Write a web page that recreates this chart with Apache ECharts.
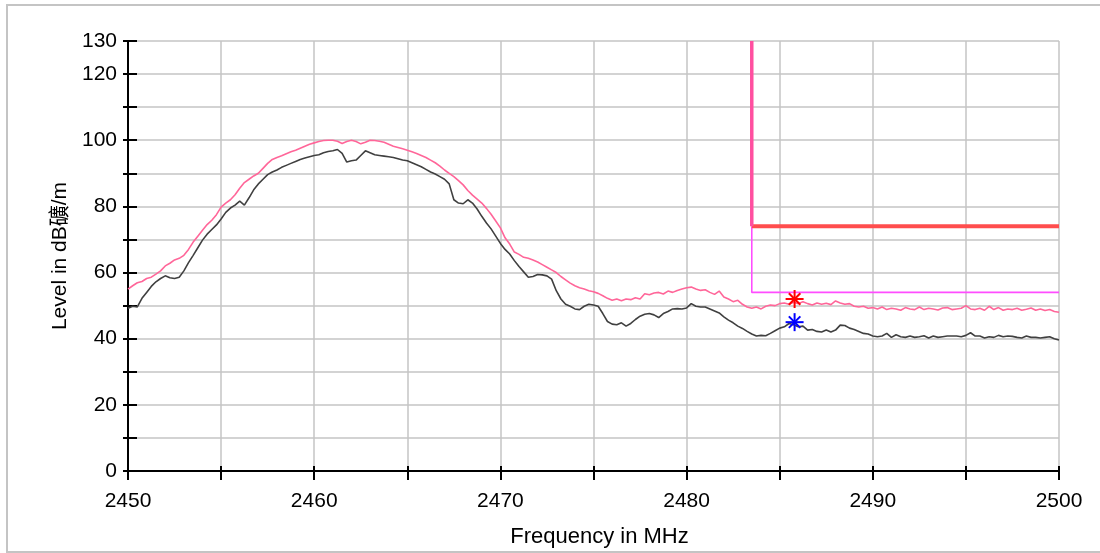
<!DOCTYPE html>
<html>
<head>
<meta charset="utf-8">
<script src="https://cdn.jsdelivr.net/npm/echarts@6/dist/echarts.min.js"></script>
<style>
  html, body {margin: 0; padding: 0; background: #fff;}
  #chart {width: 1100px; height: 553px;}
</style>
</head>
<body>
<div id="chart"></div>
<script>
// sweep: 2450 .. 2500 MHz, one reading every 0.25 MHz
var freqStart = 2450;
var freqStep = 0.25;

// upper trace (pink)
var pinkLevel = [
    55.0, 56.0, 56.9, 57.3, 58.2, 58.6, 59.5, 60.5, 62.0, 62.8, 63.8, 64.3, 65.2, 67.0, 69.2, 71.0, 72.8, 74.5, 75.8, 77.5,
    79.8, 81.0, 82.0, 83.5, 85.5, 87.2, 88.2, 89.2, 90.0, 91.5, 93.0, 94.2, 94.8, 95.3, 95.9, 96.5, 97.0, 97.6, 98.2, 98.8,
    99.2, 99.6, 99.9, 100.0, 100.0, 99.7, 99.0, 99.6, 100.0, 99.6, 98.9, 99.4, 100.0, 99.9, 99.7, 99.4, 98.8, 98.2, 97.8, 97.4,
    97.0, 96.5, 96.0, 95.4, 94.8, 94.0, 93.2, 92.2, 91.0, 90.0, 89.0, 87.8, 86.5, 84.8, 83.4, 82.2, 81.0, 79.4, 77.6, 75.6,
    73.5, 70.5, 68.6, 66.2, 65.5, 64.6, 64.3, 63.8, 63.2, 62.4, 61.6, 60.8, 60.0, 58.8, 57.8, 56.8, 56.0, 55.4, 55.0, 54.5,
    54.2, 53.7, 53.0, 52.2, 51.6, 52.0, 51.5, 52.0, 51.8, 52.4, 52.0, 53.6, 53.3, 53.8, 54.0, 53.5, 54.4, 54.0, 54.6, 55.0,
    55.4, 55.6, 55.0, 54.6, 54.8, 54.0, 53.4, 54.4, 52.6, 52.0, 51.2, 51.6, 50.4, 49.6, 49.2, 49.6, 49.0, 49.8, 50.2, 50.0,
    50.6, 50.8, 50.4, 51.0, 50.6, 51.2, 50.6, 50.2, 50.8, 50.4, 50.7, 50.3, 51.4, 50.8, 50.4, 50.6, 49.8, 49.6, 49.8, 49.2,
    49.4, 49.0, 49.6, 48.8, 49.2, 49.0, 48.6, 49.4, 49.0, 48.8, 49.6, 48.8, 49.2, 49.0, 48.7, 49.3, 49.4, 48.8, 49.0, 49.2,
    50.0, 49.0, 48.8, 49.2, 48.6, 49.8, 48.8, 49.4, 48.6, 49.0, 48.8, 49.2, 48.6, 48.9, 49.3, 48.6, 49.0, 48.5, 48.8, 48.2, 48.0
];

// lower trace (dark grey)
var darkLevel = [
    49.2, 49.8, 49.6, 52.2, 54.0, 55.8, 57.2, 58.2, 59.0, 58.4, 58.2, 58.6, 60.5, 63.0, 65.2, 67.5, 69.8, 71.6, 73.0, 74.4,
    76.2, 78.2, 79.5, 80.4, 81.6, 80.4, 82.6, 85.0, 86.8, 88.2, 89.6, 90.4, 91.0, 91.8, 92.4, 93.0, 93.6, 94.2, 94.6, 95.0,
    95.4, 95.6, 96.2, 96.6, 96.8, 97.2, 96.0, 93.4, 93.8, 94.0, 95.4, 96.8, 96.2, 95.6, 95.4, 95.2, 95.0, 94.8, 94.4, 94.0,
    93.8, 93.2, 92.6, 92.0, 91.2, 90.4, 89.8, 89.0, 88.2, 86.8, 82.0, 81.0, 80.8, 82.0, 81.0, 79.2, 77.0, 75.0, 73.2, 71.0,
    68.8, 67.0, 65.6, 63.6, 61.8, 60.2, 58.6, 58.8, 59.4, 59.3, 59.0, 58.0, 54.5, 52.0, 50.4, 49.8, 49.0, 48.8, 49.8, 50.4,
    50.2, 49.8, 47.6, 45.2, 44.4, 44.2, 44.8, 43.8, 44.6, 45.8, 46.8, 47.4, 47.6, 47.2, 46.4, 47.6, 48.2, 49.0, 49.1, 49.0,
    49.3, 50.6, 49.8, 49.6, 49.6, 49.0, 48.4, 47.8, 46.6, 45.6, 44.8, 43.8, 43.1, 42.2, 41.4, 40.8, 41.0, 40.9, 41.6, 42.4,
    43.2, 43.6, 44.6, 44.2, 43.6, 43.8, 42.6, 42.8, 42.2, 42.0, 42.6, 42.0, 42.6, 44.1, 44.0, 43.2, 42.8, 42.2, 41.6, 41.4,
    40.8, 40.6, 40.8, 41.6, 40.4, 41.2, 40.6, 40.4, 40.8, 40.4, 40.6, 40.9, 40.2, 40.8, 40.4, 40.6, 40.8, 40.8, 40.8, 40.6,
    41.0, 41.8, 40.8, 40.8, 40.2, 40.6, 40.4, 41.0, 40.6, 40.8, 40.7, 40.4, 40.2, 40.8, 40.4, 40.4, 40.2, 40.4, 40.6, 40.0, 39.6
];

// limit lines [freq, level]
var limitEdge = [[2483.5, 130], [2483.5, 74]];
var limitPeak = [[2483.5, 74], [2500, 74]];
var limitAvg = [[2483.5, 74], [2483.5, 54], [2500, 54]];

// markers [freq, level]
var markerPeak = [[2485.8, 52.0]];
var markerAvg = [[2485.8, 45.0]];

var yLabels = [0, 20, 40, 60, 80, 100, 120, 130];
var xLabels = [2450, 2460, 2470, 2480, 2490, 2500];

function toPairs(levels) {
    var out = [];
    for (var i = 0; i < levels.length; i++) {
        out.push([freqStart + i * freqStep, levels[i]]);
    }
    return out;
}

function starItem(color) {
    return function (params, api) {
        var p = api.coord([api.value(0), api.value(1)]);
        var r = 8;
        var d = r * 0.72;
        var style = {stroke: color, lineWidth: 2};
        return {
            type: 'group',
            children: [
                {type: 'line', shape: {x1: p[0], y1: p[1] - r - 1, x2: p[0], y2: p[1] + r + 1}, style: style},
                {type: 'line', shape: {x1: p[0] - r - 1, y1: p[1], x2: p[0] + r + 1, y2: p[1]}, style: style},
                {type: 'line', shape: {x1: p[0] - d, y1: p[1] - d, x2: p[0] + d, y2: p[1] + d}, style: style},
                {type: 'line', shape: {x1: p[0] - d, y1: p[1] + d, x2: p[0] + d, y2: p[1] - d}, style: style}
            ]
        };
    };
}

var fontFam = "'Liberation Sans', Arial, 'Noto Sans CJK SC', sans-serif";

var myChart = echarts.init(document.getElementById('chart'), null, {renderer: 'canvas'});
var option = {
    animation: false,
    backgroundColor: '#fff',
    textStyle: {fontFamily: fontFam},
    graphic: [
        {type: 'rect', shape: {x: 7, y: 5, width: 1110, height: 547}, style: {fill: 'none', stroke: '#c4c4c4', lineWidth: 2}, z: -10}
    ],
    grid: {left: 128, right: 41, top: 41, bottom: 82, containLabel: false},
    xAxis: [
        {
            type: 'value', min: 2450, max: 2500, interval: 5, position: 'bottom',
            name: 'Frequency in MHz', nameLocation: 'middle', nameGap: 55,
            nameTextStyle: {color: '#000', fontSize: 22, fontFamily: fontFam, padding: [0, 0, 0, 12]},
            axisLine: {show: true, onZero: false, lineStyle: {color: '#000', width: 2}},
            axisTick: {show: true, inside: false, length: 9, lineStyle: {color: '#000', width: 2}},
            axisLabel: {
                color: '#000', fontSize: 21, fontFamily: fontFam, margin: 20,
                formatter: function (v) { return xLabels.indexOf(v) >= 0 ? String(v) : ''; }
            },
            splitLine: {show: true, lineStyle: {color: '#c4c4c4', width: 1.5}}
        },
        {
            type: 'value', min: 2450, max: 2500, interval: 5, position: 'bottom',
            axisLine: {show: false},
            axisTick: {show: true, inside: true, length: 5, lineStyle: {color: '#000', width: 2}},
            axisLabel: {show: false},
            splitLine: {show: false}
        }
    ],
    yAxis: [
        {
            type: 'value', min: 0, max: 130, interval: 10, position: 'left',
            name: 'Level in dB礦/m', nameLocation: 'middle', nameGap: 57,
            nameTextStyle: {color: '#000', fontSize: 21, fontFamily: fontFam, padding: [0, 0, 0, 0]},
            axisLine: {show: true, lineStyle: {color: '#000', width: 2}},
            axisTick: {show: true, inside: true, length: 9, lineStyle: {color: '#000', width: 2}},
            axisLabel: {
                color: '#000', fontSize: 21, fontFamily: fontFam, margin: 11,
                formatter: function (v) { return yLabels.indexOf(v) >= 0 ? String(v) : ''; }
            },
            splitLine: {show: true, lineStyle: {color: '#c4c4c4', width: 1.5}}
        },
        {
            type: 'value', min: 0, max: 130, interval: 10, position: 'left',
            axisLine: {show: false},
            axisTick: {show: true, inside: false, length: 5, lineStyle: {color: '#000', width: 2}},
            axisLabel: {show: false},
            splitLine: {show: false}
        }
    ],
    series: [
        {
            name: 'Average', type: 'line', data: toPairs(darkLevel), symbol: 'none',
            lineStyle: {color: '#404040', width: 1.6}, z: 3
        },
        {
            name: 'Peak', type: 'line', data: toPairs(pinkLevel), symbol: 'none',
            lineStyle: {color: '#ff6699', width: 1.6}, z: 3
        },
        {
            name: 'Limit AV', type: 'line', data: limitAvg, symbol: 'none',
            lineStyle: {color: '#ff4dff', width: 1.6}, z: 4
        },
        {
            name: 'Limit PK', type: 'line', data: limitPeak, symbol: 'none',
            lineStyle: {color: '#ff4d4d', width: 4}, z: 5
        },
        {
            name: 'Band edge', type: 'line', data: limitEdge, symbol: 'none',
            lineStyle: {color: '#ff4fa0', width: 3.5}, z: 5
        },
        {
            name: 'Marker PK', type: 'custom', data: markerPeak, renderItem: starItem('#ff0000'), z: 6
        },
        {
            name: 'Marker AV', type: 'custom', data: markerAvg, renderItem: starItem('#0000ff'), z: 6
        }
    ]
};
myChart.setOption(option);
</script>
</body>
</html>
